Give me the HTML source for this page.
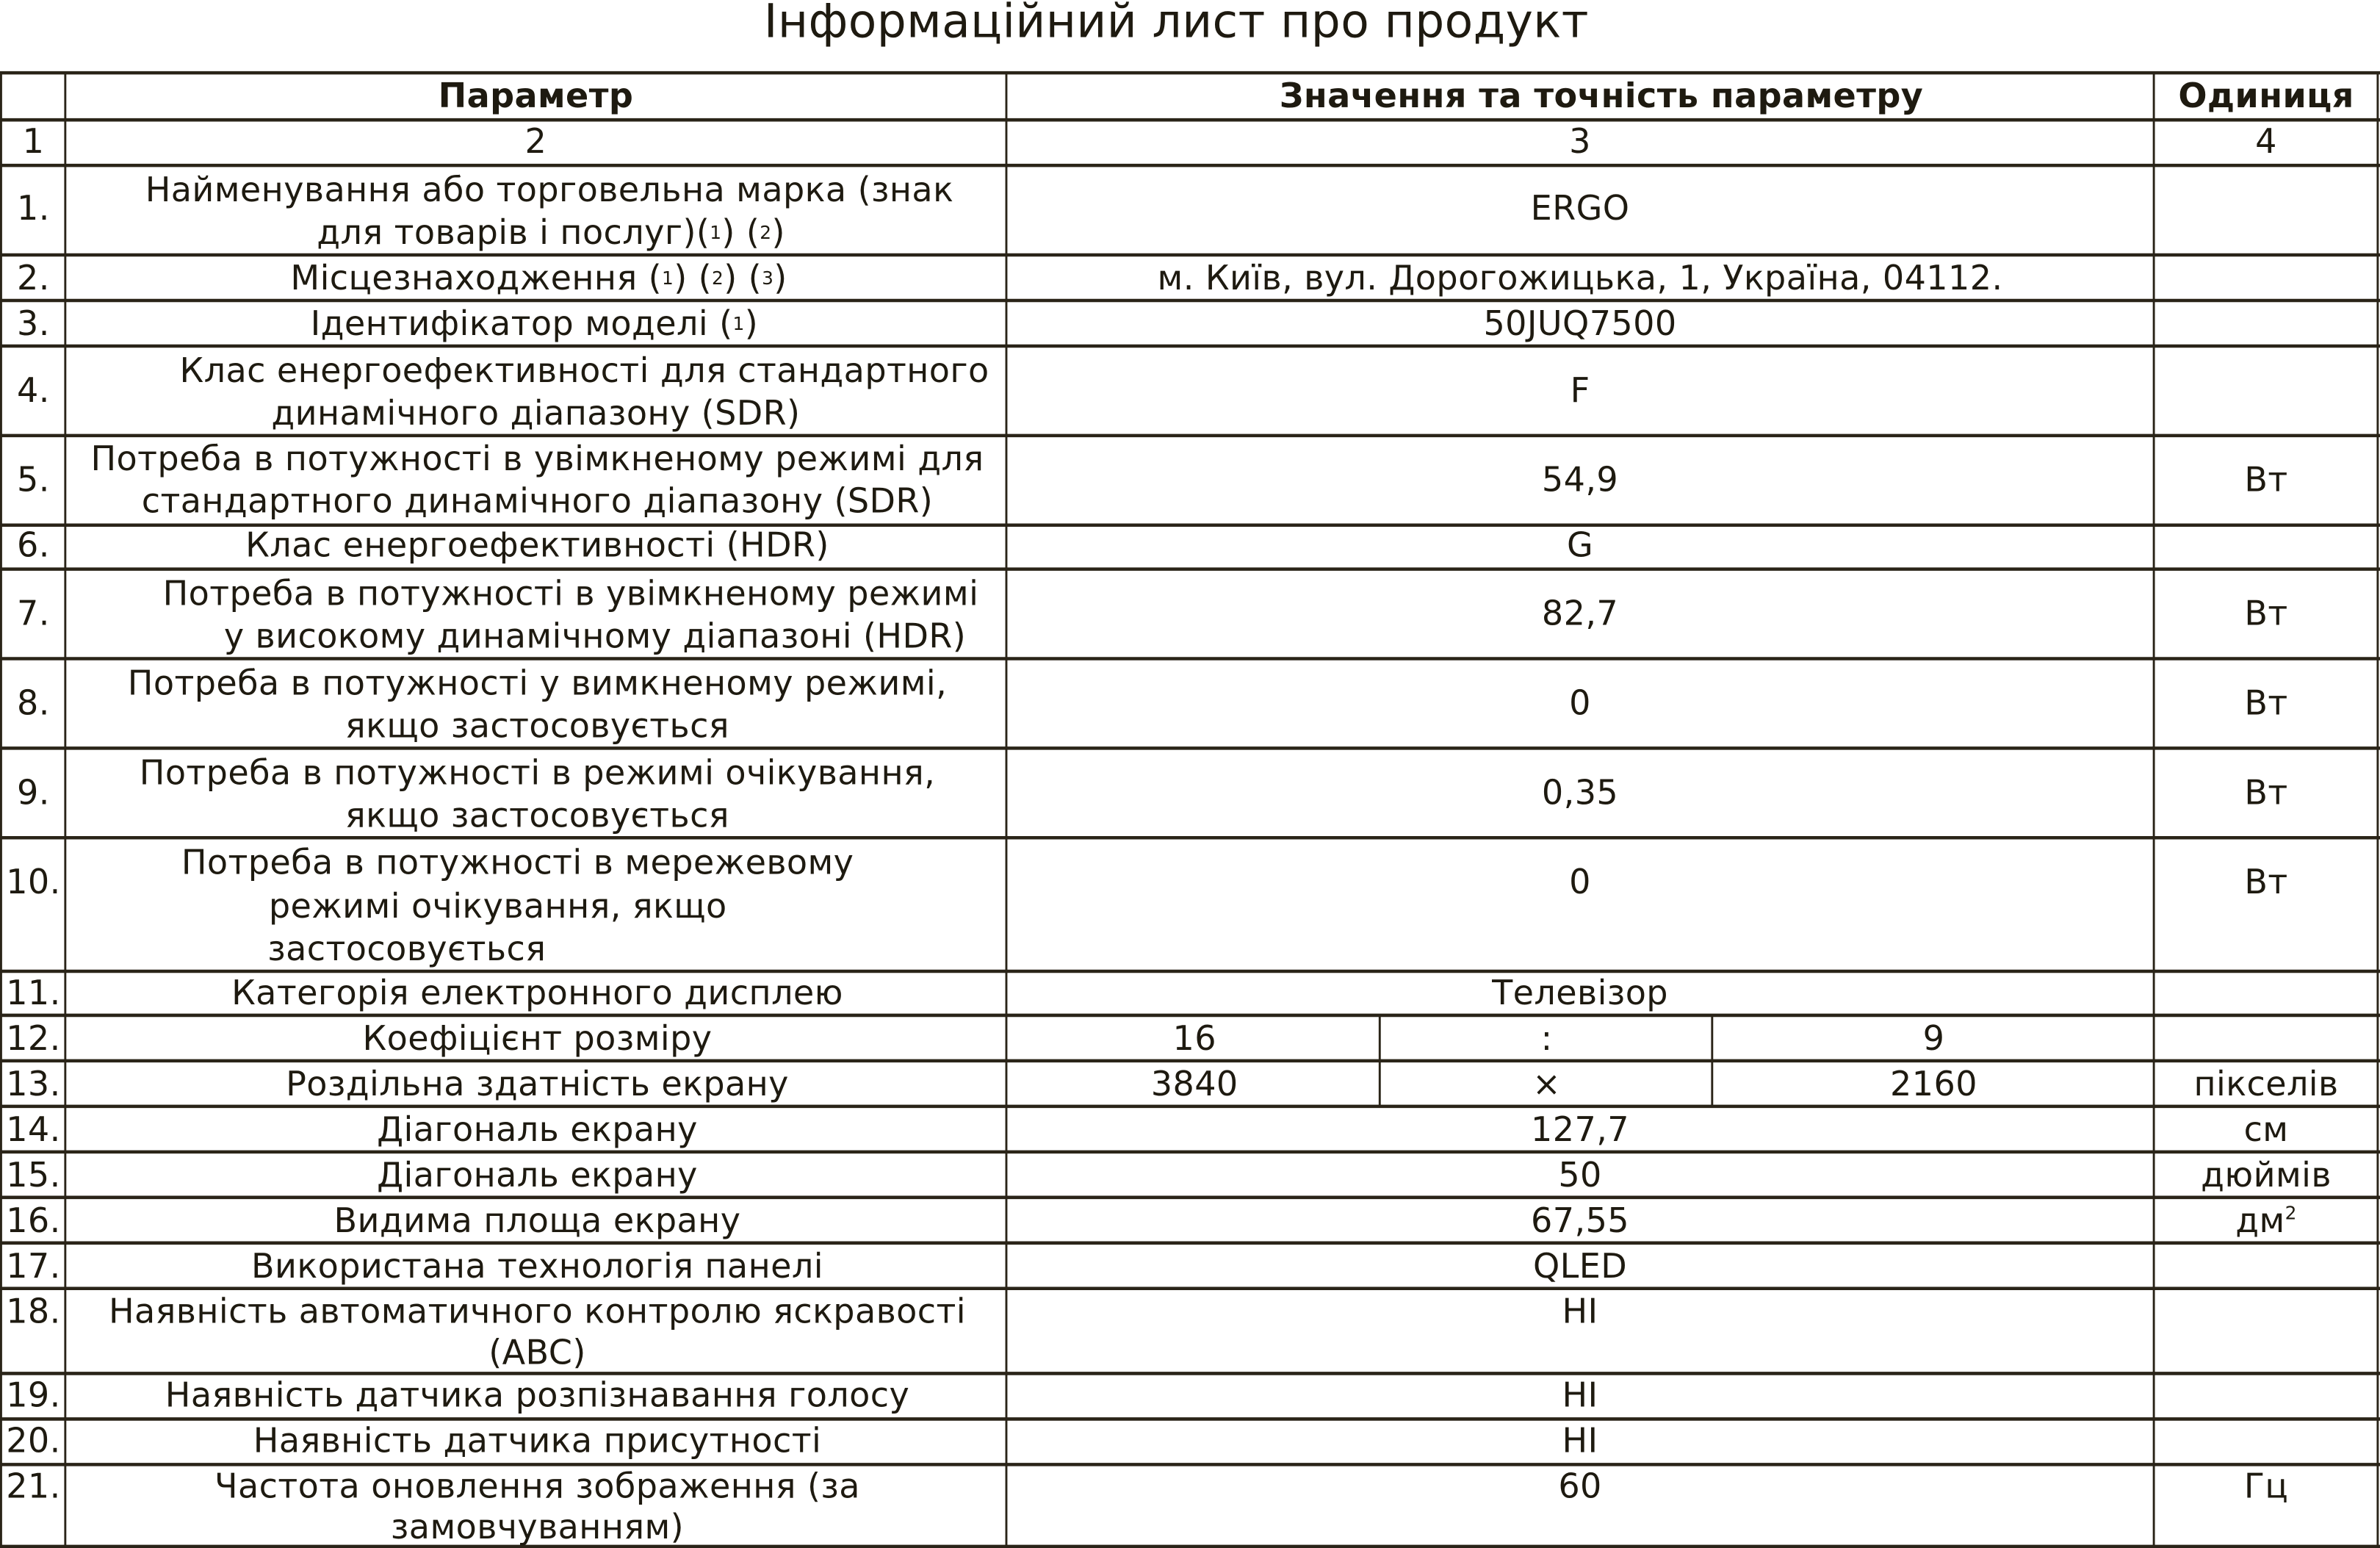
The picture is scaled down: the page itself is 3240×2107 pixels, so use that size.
<!DOCTYPE html>
<html><head><meta charset="utf-8"><style>
html,body{margin:0;padding:0;background:#fff;}
svg{display:block;}
text{font-family:"DejaVu Sans","Liberation Sans",sans-serif;fill:#1e1a10;font-size:22.3px;letter-spacing:0.2px;}
.b{font-weight:bold;}
</style></head><body>
<svg width="3240" height="2107" viewBox="0 0 1568 1020" preserveAspectRatio="none" xmlns="http://www.w3.org/2000/svg">
<g stroke="#2a2418" stroke-width="2.2" fill="none">
<line x1="0" x2="1568" y1="48" y2="48"/><line x1="0" x2="1568" y1="79" y2="79"/><line x1="0" x2="1568" y1="109" y2="109"/>
<line x1="0" x2="1568" y1="168" y2="168"/><line x1="0" x2="1568" y1="198" y2="198"/><line x1="0" x2="1568" y1="228" y2="228"/>
<line x1="0" x2="1568" y1="287" y2="287"/><line x1="0" x2="1568" y1="346" y2="346"/><line x1="0" x2="1568" y1="375" y2="375"/>
<line x1="0" x2="1568" y1="434" y2="434"/><line x1="0" x2="1568" y1="493" y2="493"/><line x1="0" x2="1568" y1="552" y2="552"/>
<line x1="0" x2="1568" y1="640" y2="640"/><line x1="0" x2="1568" y1="669" y2="669"/><line x1="0" x2="1568" y1="699" y2="699"/>
<line x1="0" x2="1568" y1="729" y2="729"/><line x1="0" x2="1568" y1="759" y2="759"/><line x1="0" x2="1568" y1="789" y2="789"/>
<line x1="0" x2="1568" y1="819" y2="819"/><line x1="0" x2="1568" y1="849" y2="849"/><line x1="0" x2="1568" y1="905" y2="905"/>
<line x1="0" x2="1568" y1="935" y2="935"/><line x1="0" x2="1568" y1="965" y2="965"/><line x1="0" x2="1568" y1="1019" y2="1019"/>
</g>
<g stroke="#2a2418" stroke-width="1.4">
<line x1="0.7" x2="0.7" y1="48" y2="1020"/><line x1="43" x2="43" y1="48" y2="1020"/>
<line x1="663" x2="663" y1="48" y2="1020"/><line x1="1419" x2="1419" y1="48" y2="1020"/>
<line x1="1566.5" x2="1566.5" y1="48" y2="1020"/>
<line x1="909" x2="909" y1="669" y2="729"/><line x1="1128" x2="1128" y1="669" y2="729"/>
</g>
<g text-anchor="middle" dominant-baseline="central">
<text x="775" y="14" style="font-size:30.5px">Інформаційний лист про продукт</text>
<text class="b" x="353" y="63">Параметр</text>
<text class="b" x="1055" y="63">Значення та точність параметру</text>
<text class="b" x="1493" y="63">Одиниця</text>
<text x="22" y="93">1</text><text x="353" y="93">2</text><text x="1041" y="93">3</text><text x="1493" y="93">4</text>

<text x="22" y="137">1.</text>
<text x="362" y="125">Найменування або торговельна марка (знак</text>
<text x="363" y="153">для товарів і послуг)(<tspan style="font-size:12px">1</tspan>) (<tspan style="font-size:12px">2</tspan>)</text>
<text x="1041" y="137">ERGO</text>

<text x="22" y="183">2.</text>
<text x="355" y="183">Місцезнаходження (<tspan style="font-size:12px">1</tspan>) (<tspan style="font-size:12px">2</tspan>) (<tspan style="font-size:12px">3</tspan>)</text>
<text x="1041" y="183">м. Київ, вул. Дорогожицька, 1, Україна, 04112.</text>

<text x="22" y="213">3.</text>
<text x="352" y="213">Ідентифікатор моделі (<tspan style="font-size:12px">1</tspan>)</text>
<text x="1041" y="213">50JUQ7500</text>

<text x="22" y="257">4.</text>
<text x="385" y="244">Клас енергоефективності для стандартного</text>
<text x="353" y="272">динамічного діапазону (SDR)</text>
<text x="1041" y="257">F</text>

<text x="22" y="316">5.</text>
<text x="354" y="302">Потреба в потужності в увімкненому режимі для</text>
<text x="354" y="330">стандартного динамічного діапазону (SDR)</text>
<text x="1041" y="316">54,9</text><text x="1493" y="316">Вт</text>

<text x="22" y="359">6.</text>
<text x="354" y="359">Клас енергоефективності (HDR)</text>
<text x="1041" y="359">G</text>

<text x="22" y="404">7.</text>
<text x="376" y="391">Потреба в потужності в увімкненому режимі</text>
<text x="392" y="419">у високому динамічному діапазоні (HDR)</text>
<text x="1041" y="404">82,7</text><text x="1493" y="404">Вт</text>

<text x="22" y="463">8.</text>
<text x="354" y="450">Потреба в потужності у вимкненому режимі,</text>
<text x="354" y="478">якщо застосовується</text>
<text x="1041" y="463">0</text><text x="1493" y="463">Вт</text>

<text x="22" y="522">9.</text>
<text x="354" y="509">Потреба в потужності в режимі очікування,</text>
<text x="354" y="537">якщо застосовується</text>
<text x="1041" y="522">0,35</text><text x="1493" y="522">Вт</text>

<text x="22" y="581">10.</text>
<text x="341" y="568">Потреба в потужності в мережевому</text>
<text x="328" y="597">режимі очікування, якщо</text>
<text x="268" y="625">застосовується</text>
<text x="1041" y="581">0</text><text x="1493" y="581">Вт</text>

<text x="22" y="654">11.</text>
<text x="354" y="654">Категорія електронного дисплею</text>
<text x="1041" y="654">Телевізор</text>

<text x="22" y="684">12.</text>
<text x="354" y="684">Коефіцієнт розміру</text>
<text x="787" y="684">16</text><text x="1019" y="684">:</text><text x="1274" y="684">9</text>

<text x="22" y="714">13.</text>
<text x="354" y="714">Роздільна здатність екрану</text>
<text x="787" y="714">3840</text><text x="1019" y="714">×</text><text x="1274" y="714">2160</text>
<text x="1493" y="714">пікселів</text>

<text x="22" y="744">14.</text>
<text x="354" y="744">Діагональ екрану</text>
<text x="1041" y="744">127,7</text><text x="1493" y="744">см</text>

<text x="22" y="774">15.</text>
<text x="354" y="774">Діагональ екрану</text>
<text x="1041" y="774">50</text><text x="1493" y="774">дюймів</text>

<text x="22" y="804">16.</text>
<text x="354" y="804">Видима площа екрану</text>
<text x="1041" y="804">67,55</text><text x="1493" y="804">дм<tspan style="font-size:12px" dy="-5">2</tspan></text>

<text x="22" y="834">17.</text>
<text x="354" y="834">Використана технологія панелі</text>
<text x="1041" y="834">QLED</text>

<text x="22" y="864">18.</text>
<text x="354" y="864">Наявність автоматичного контролю яскравості</text>
<text x="354" y="891">(ABC)</text>
<text x="1041" y="864">НІ</text>

<text x="22" y="919">19.</text>
<text x="354" y="919">Наявність датчика розпізнавання голосу</text>
<text x="1041" y="919">НІ</text>

<text x="22" y="949">20.</text>
<text x="354" y="949">Наявність датчика присутності</text>
<text x="1041" y="949">НІ</text>

<text x="22" y="979">21.</text>
<text x="354" y="979">Частота оновлення зображення (за</text>
<text x="354" y="1006">замовчуванням)</text>
<text x="1041" y="979">60</text><text x="1493" y="979">Гц</text>
</g>
</svg>
</body></html>
